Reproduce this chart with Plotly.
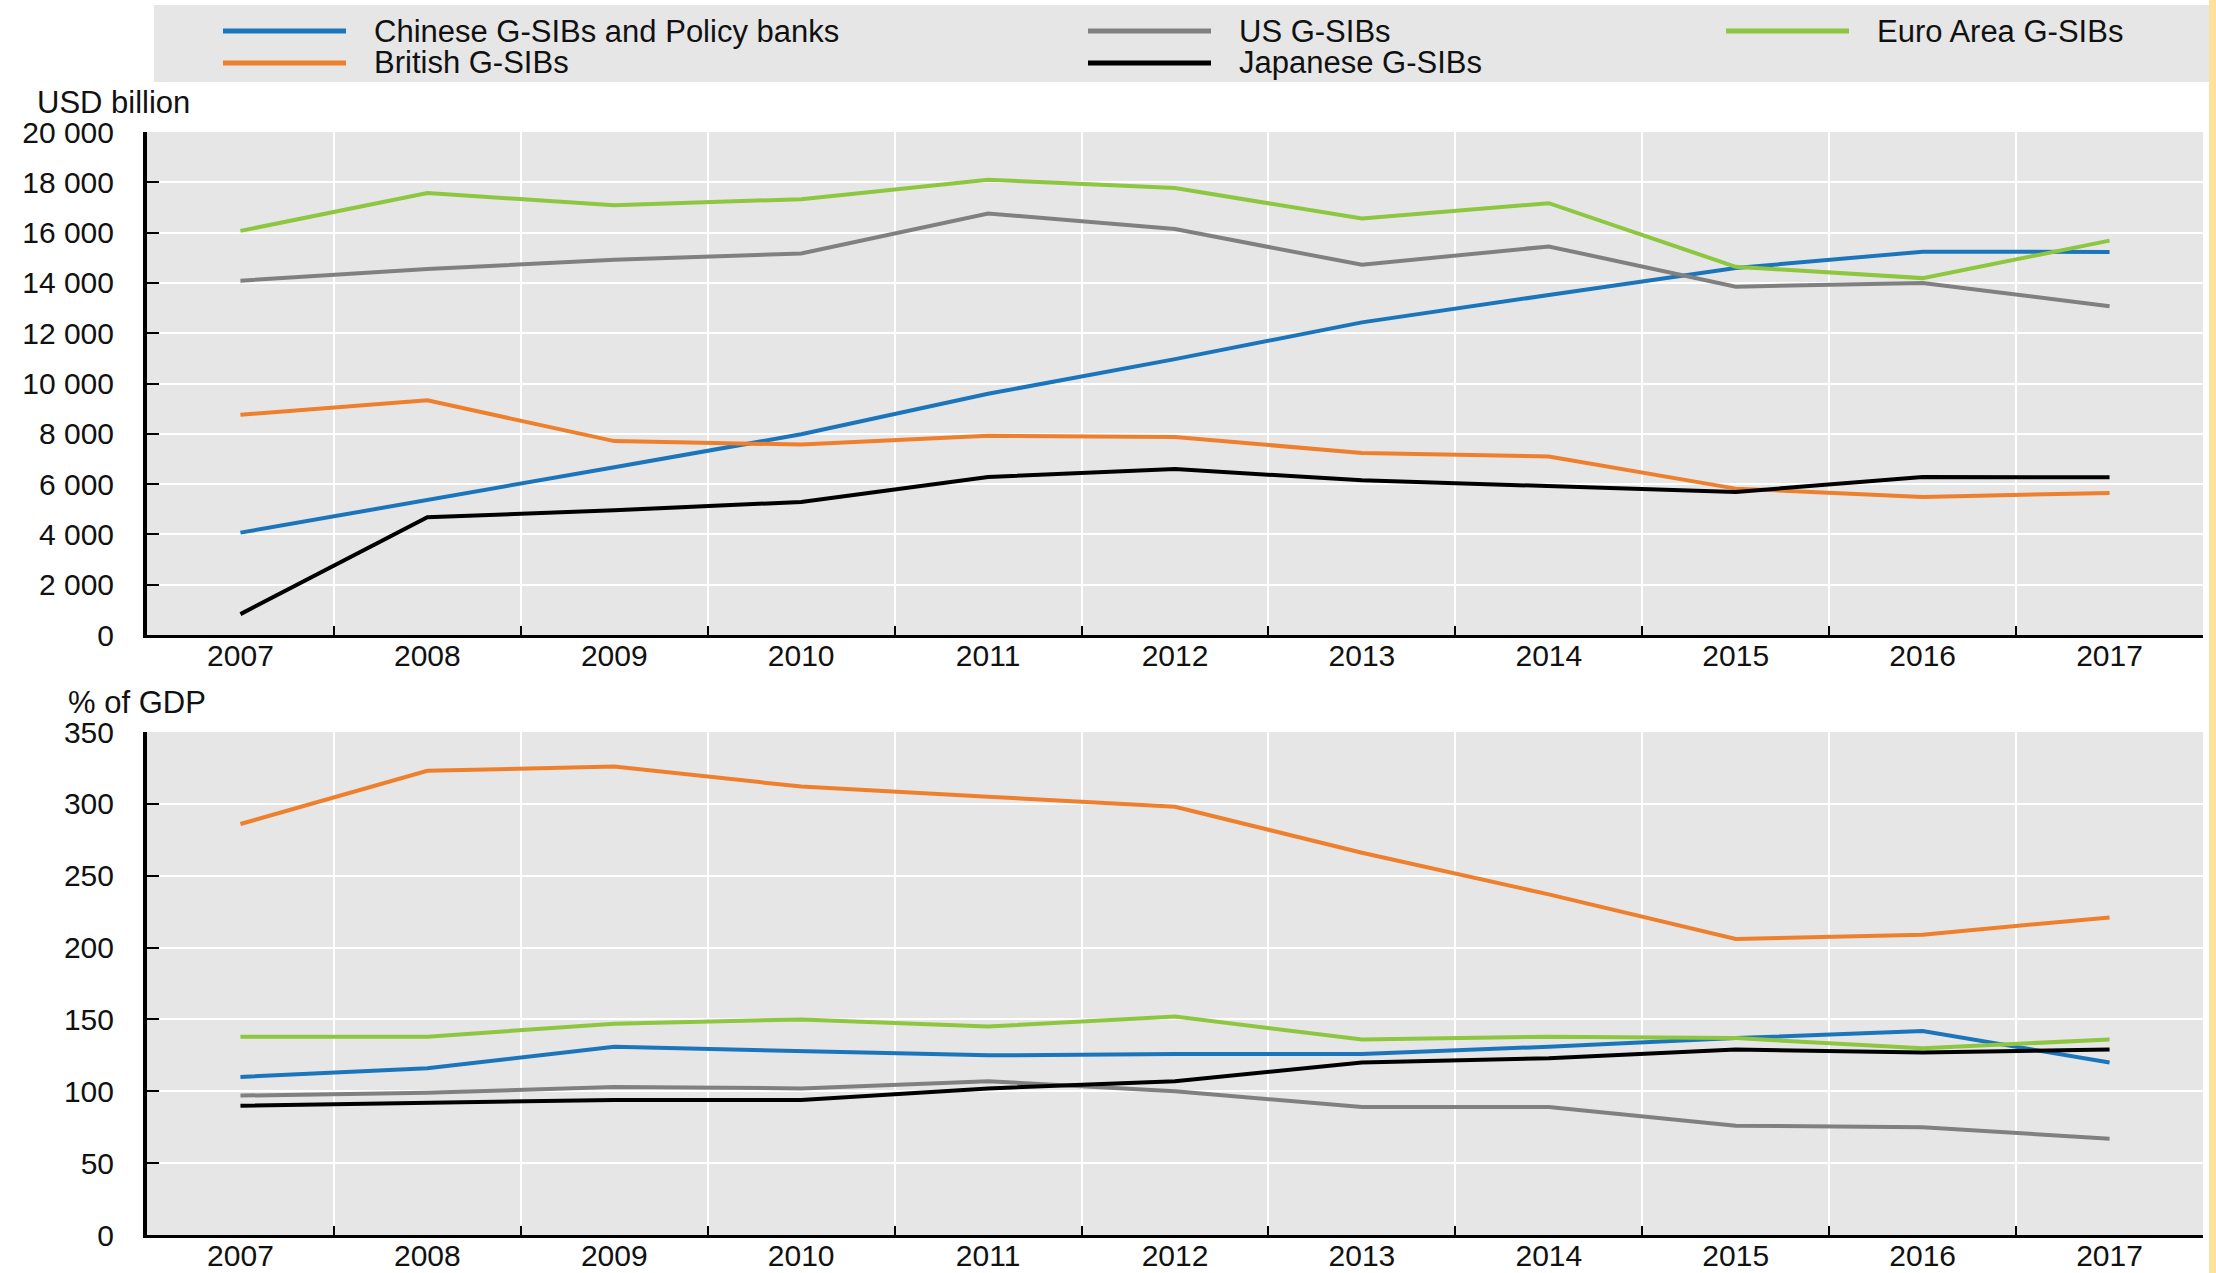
import plotly.graph_objects as go
from plotly.subplots import make_subplots

W, H = 2216, 1273

years = [str(y) for y in range(2007, 2018)]

# USD billion
usd_chinese = [4070, 5360, 6670, 7980, 9590, 10970, 12430, 13520, 14590, 15240, 15230]
usd_british = [8760, 9330, 7710, 7570, 7920, 7870, 7240, 7100, 5820, 5490, 5650]
usd_us = [14090, 14550, 14920, 15170, 16760, 16140, 14720, 15450, 13850, 14000, 13070]
usd_euro = [16070, 17570, 17090, 17330, 18100, 17770, 16560, 17170, 14640, 14190, 15680]
usd_japan = [830, 4680, 4960, 5290, 6280, 6600, 6150, 5930, 5690, 6280, 6270]

# % of GDP
gdp_chinese = [110, 116, 131, 128, 125, 126, 126, 131, 137, 142, 120]
gdp_british = [286, 323, 326, 312, 305, 298, 266, 237, 206, 209, 221]
gdp_us = [97, 99, 103, 102, 107, 100, 89, 89, 76, 75, 67]
gdp_euro = [138, 138, 147, 150, 145, 152, 136, 138, 137, 130, 136]
gdp_japan = [90, 92, 94, 94, 102, 107, 120, 123, 129, 127, 129]

COLORS = {
    "chinese": "#1B75BB",
    "british": "#EE7F2D",
    "us": "#808080",
    "japan": "#000000",
    "euro": "#8DC63F",
}

SERIES = [
    ("Chinese G-SIBs and Policy banks", "chinese", usd_chinese, gdp_chinese),
    ("British G-SIBs", "british", usd_british, gdp_british),
    ("US G-SIBs", "us", usd_us, gdp_us),
    ("Japanese G-SIBs", "japan", usd_japan, gdp_japan),
    ("Euro Area G-SIBs", "euro", usd_euro, gdp_euro),
]

FONT = "Liberation Sans, Arial, sans-serif"


def px_x(v):
    return v / W


def px_y(v):
    return 1 - v / H


fig = make_subplots(rows=2, cols=1)

for name, key, usd, gdp in SERIES:
    fig.add_trace(go.Scatter(x=years, y=usd, name=name, mode="lines",
                             line=dict(color=COLORS[key], width=4)), row=1, col=1)
    fig.add_trace(go.Scatter(x=years, y=gdp, name=name, mode="lines",
                             line=dict(color=COLORS[key], width=4), showlegend=False), row=2, col=1)

xaxis_style = dict(
    type="category", range=[-0.5, 10.5], tickson="boundaries",
    ticks="inside", ticklen=9, tickwidth=2, tickcolor="black",
    showline=True, linecolor="black", linewidth=3,
    showgrid=True, gridcolor="white", gridwidth=2,
    domain=[px_x(147), px_x(2203)], automargin=False,
    ticklabelstandoff=-8,
    tickfont=dict(size=30, color="#111"),
)
yaxis_style = dict(
    ticks="inside", ticklen=12, tickwidth=2, tickcolor="black",
    showline=True, linecolor="black", linewidth=4,
    showgrid=True, gridcolor="white", gridwidth=2, zeroline=False,
    automargin=False, ticklabelstandoff=23,
    tickfont=dict(size=30, color="#111"),
)

fig.update_xaxes(**xaxis_style)
fig.update_yaxes(**yaxis_style)
fig.update_yaxes(range=[0, 20000], dtick=2000, tickformat=",",
                 domain=[px_y(635), px_y(132)], row=1, col=1)
fig.update_yaxes(range=[0, 350], dtick=50,
                 domain=[px_y(1235), px_y(732)], row=2, col=1)

shapes = [
    # legend box
    dict(type="rect", xref="paper", yref="paper", x0=px_x(154), x1=px_x(2209),
         y0=px_y(82), y1=px_y(5), fillcolor="#E6E6E6", line_width=0, layer="below"),
    # right-hand strip
    dict(type="rect", xref="paper", yref="paper", x0=px_x(2209), x1=1,
         y0=0, y1=1, fillcolor="#FEE29B", line_width=0, layer="below"),
]
annotations = [
    dict(text="USD billion", x=px_x(35), y=px_y(103), xanchor="left", yanchor="middle"),
    dict(text="% of GDP", x=px_x(66), y=px_y(702), xanchor="left", yanchor="middle"),
]

# manual legend, 3 columns
legend_pos = {
    "chinese": (223, 31), "us": (1088, 31), "euro": (1726, 31),
    "british": (223, 63), "japan": (1088, 63),
}
for name, key, _, _ in SERIES:
    lx, ly = legend_pos[key]
    shapes.append(dict(type="line", xref="paper", yref="paper",
                       x0=px_x(lx), x1=px_x(lx + 123), y0=px_y(ly), y1=px_y(ly),
                       line=dict(color=COLORS[key], width=5)))
    annotations.append(dict(text=name, x=px_x(lx + 149), y=px_y(ly),
                            xanchor="left", yanchor="middle"))

for a in annotations:
    a.update(xref="paper", yref="paper", showarrow=False,
             font=dict(family=FONT, size=31, color="#111"))

fig.update_layout(
    width=W, height=H,
    margin=dict(l=0, r=0, t=0, b=0),
    paper_bgcolor="white", plot_bgcolor="#E6E6E6",
    separators=". ",
    showlegend=False,
    font=dict(family=FONT, size=30, color="#111"),
    shapes=shapes,
    annotations=annotations,
)

fig.write_html("out.html", config={"displayModeBar": False},
               post_script="document.body.style.margin='0';")
